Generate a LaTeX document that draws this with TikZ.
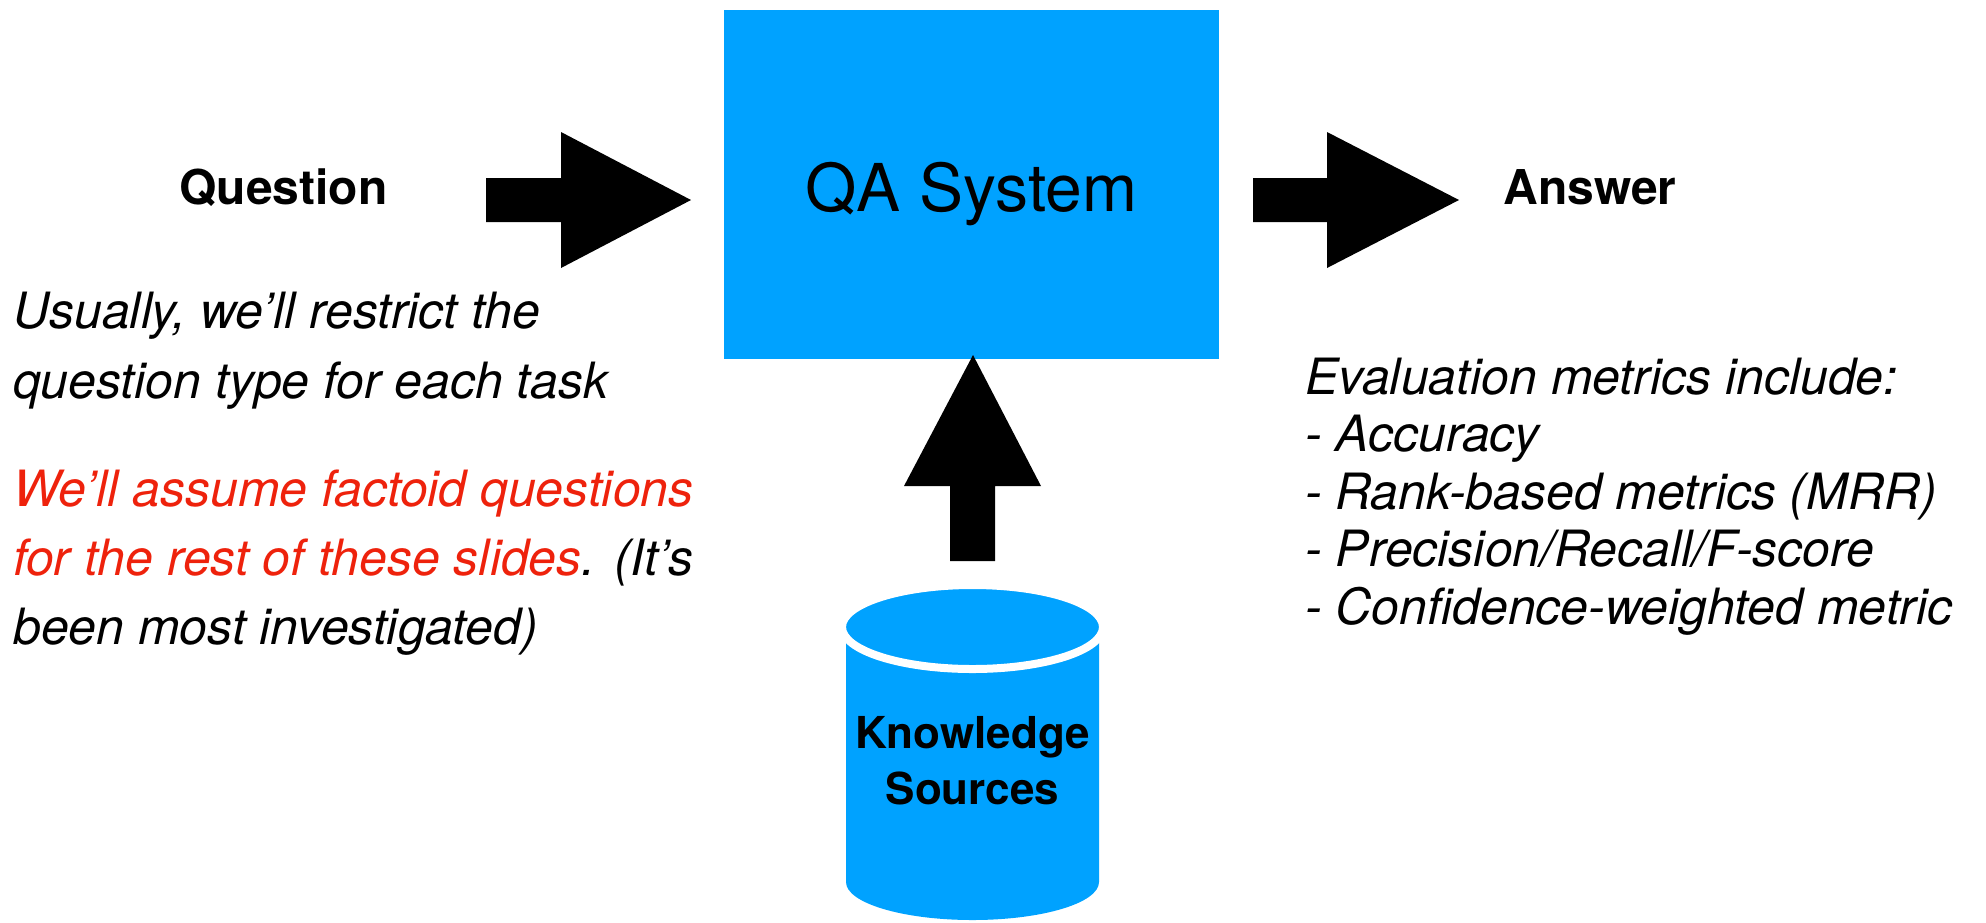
\documentclass[tikz,border=0pt]{standalone}
\usepackage{fontspec}
\setmainfont{TeX Gyre Heros}
\definecolor{kblue}{HTML}{00A2FF}
\definecolor{kred}{HTML}{EE220C}
\begin{document}
\begin{tikzpicture}[x=1pt,y=-1pt,
  itxt/.style={inner sep=0pt, anchor=base west, font=\fontsize{50}{60}\selectfont\itshape},
  lbl/.style={inner sep=0pt, anchor=base, font=\fontsize{48}{58}\selectfont\bfseries},
  blockarrow/.style={fill=black},
  cyl/.style={fill=kblue}]
\useasboundingbox (0,0) rectangle (1986,922);
% QA system box
\node[fill=kblue, minimum width=495pt, minimum height=349pt, inner sep=0pt, anchor=north west] (qa) at (724,10) {};
\node[inner sep=0pt, anchor=base, font=\fontsize{66}{80}\selectfont] (qatext) at (971.5,211) {QA System};
% labels
\node[lbl] (question) at (283.5,204) {Question};
\node[lbl] (answer) at (1590,204) {Answer};
% block arrows
\fill[blockarrow] (486,178) -- (561,178) -- (561,132) -- (691,200) -- (561,268) -- (561,222) -- (486,222) -- cycle;
\fill[blockarrow] (1253,178) -- (1327,178) -- (1327,132) -- (1459,200) -- (1327,268) -- (1327,222) -- (1253,222) -- cycle;
\fill[blockarrow] (950,561) -- (950,486) -- (904,486) -- (973,355) -- (1041,486) -- (995,486) -- (995,561) -- cycle;
% cylinder
\fill[cyl] (846,627) -- (846,882) arc[start angle=180, end angle=360, x radius=126.5pt, y radius=38pt] -- (1099,627) arc[start angle=0, end angle=180, x radius=126.5pt, y radius=-38pt] -- cycle;
\draw[cyl, draw=white, line width=8pt] (972.5,627) ellipse[x radius=130.5pt, y radius=42pt];
\node[inner sep=0pt, anchor=base, font=\fontsize{44}{54}\selectfont\bfseries] (ks1) at (972.5,748) {Knowledge};
\node[inner sep=0pt, anchor=base, font=\fontsize{44}{54}\selectfont\bfseries] (ks2) at (972.5,804) {Sources};
% left notes
\node[itxt] (l1) at (13,328) {Usually, we’ll restrict the};
\node[itxt] (l2) at (13,398) {question type for each task};
\node[itxt, text=kred] (l3) at (13,506) {We’ll assume factoid questions};
\node[itxt] (l4) at (13,575) {\textcolor{kred}{for the rest of these slides}. (It’s};
\node[itxt] (l5) at (13,644) {been most investigated)};
% right notes
\node[itxt] (r1) at (1305,394) {Evaluation metrics include:};
\node[itxt] (r2) at (1305,451) {- Accuracy};
\node[itxt] (r3) at (1305,509) {- Rank-based metrics (MRR)};
\node[itxt] (r4) at (1305,566) {- Precision/Recall/F-score};
\node[itxt] (r5) at (1305,624) {- Confidence-weighted metric};
\end{tikzpicture}
\end{document}
